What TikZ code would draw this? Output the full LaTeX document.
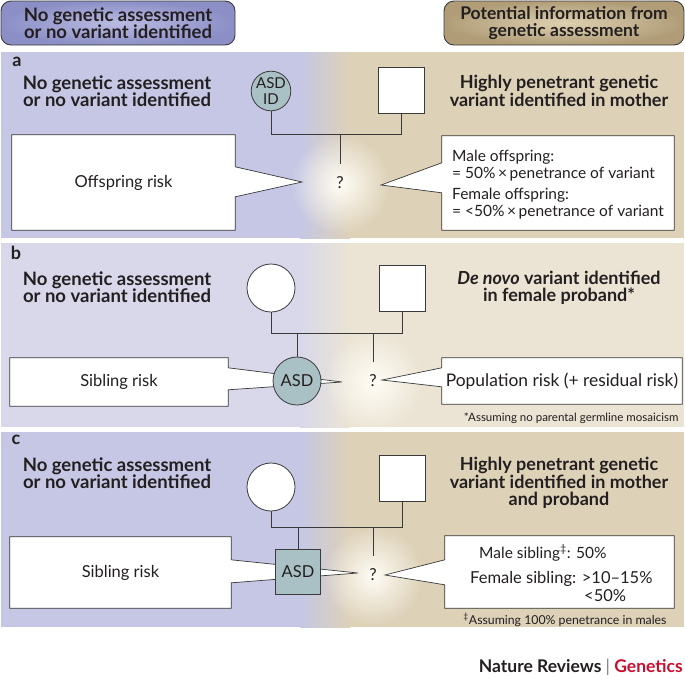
\documentclass[tikz,border=0pt]{standalone}
\usepackage{fontspec}
\setmainfont{Lato}
\usetikzlibrary{calc,fadings}
\definecolor{ink}{HTML}{231F20}
\definecolor{edge}{HTML}{3A3A3A}
\definecolor{lavA}{HTML}{C5C7E5}
\definecolor{tanA}{HTML}{DDD1B8}
\definecolor{lavB}{HTML}{D8D8EA}
\definecolor{tanB}{HTML}{EBE4D4}
\definecolor{asdteal}{HTML}{A9C1C4}
\definecolor{hdrLin}{HTML}{B9BBE2}
\definecolor{hdrLout}{HTML}{8C8FC6}
\definecolor{hdrRin}{HTML}{DED0B0}
\definecolor{hdrRout}{HTML}{B09D78}
\definecolor{natred}{HTML}{C8102E}
\definecolor{glowc}{HTML}{FFFDF6}
\tikzfading[name=glowfade, inner color=transparent!0, outer color=transparent!100]
\begin{document}
\begin{tikzpicture}[x=1pt,y=-1pt,
  title/.style={font=\bfseries\fontsize{18}{17.5}\selectfont, align=center, text=ink},
  titleL/.style={title, font=\bfseries\fontsize{18.5}{17.5}\selectfont},
  body/.style={font=\fontsize{16.5}{17}\selectfont, text=ink},
  small/.style={font=\fontsize{11.5}{12}\selectfont, text=ink},
  panellabel/.style={font=\bfseries\fontsize{18}{19}\selectfont, text=ink},
  hdr/.style={draw=edge, line width=0.9pt, rounded corners=10pt, minimum height=44pt, inner sep=0pt},
  female/.style={draw=edge, line width=0.8pt, fill=white, circle, minimum size=48pt, inner sep=0pt},
  male/.style={draw=edge, line width=0.8pt, fill=white, rectangle, minimum size=46pt, inner sep=0pt},
  affected/.style={fill=asdteal, body},
  pedline/.style={draw=edge, line width=1pt},
  cbox/.style={fill=white, inner sep=0pt, body},
  cline/.style={draw=edge, line width=0.7pt, line join=miter},
  qmark/.style={body, minimum height=38pt, inner sep=0pt},
  glow/.style={fill=glowc, path fading=glowfade}
]
\useasboundingbox (0,0) rectangle (685,678);

% ---------- panel backgrounds ----------
\foreach \t/\b/\lc/\rc in {52/238/lavA/tanA, 243/427/lavB/tanB, 432/627/lavA/tanA} {
  \fill[\lc] (1,\t) rectangle (300.5,\b);
  \shade[left color=\lc, right color=\rc] (300,\t) rectangle (350,\b);
  \fill[\rc] (349.5,\t) rectangle (684,\b);
}

% ---------- headers ----------
\node[hdr, titleL, minimum width=234pt, inner color=hdrLin, outer color=hdrLout] (hL) at (118,23)
  {No genetic assessment\\or no variant identified};
\node[hdr, title, font=\bfseries\fontsize{17.5}{17.5}\selectfont, minimum width=240pt,
  inner color=hdrRin, outer color=hdrRout] (hR) at (564,23)
  {Potential information from\\genetic assessment};

% ================= panel a =================
\node[panellabel] (pa) at (17,62) {a};
\node[titleL] (aTL) at (117,91) {No genetic assessment\\or no variant identified};
\node[title] (aTR) at (559,91) {Highly penetrant genetic\\variant identified in mother};
\fill[glow] (340,184) circle (50);
\node[female, affected, minimum size=37pt, align=center,
  font=\fontsize{15}{15.5}\selectfont] (aF) at (271,91) {ASD\\ID};
\node[male] (aM) at (401,90) {};
\node[qmark] (aQ) at (340,183) {?};
\coordinate (aJ) at (340,134);
\draw[pedline] (aF.south) |- (aJ);
\draw[pedline] (aM.south) |- (aJ);
\draw[pedline] (aJ) -- (aQ.north);
% left callout
\node[cbox, minimum width=223pt, minimum height=95pt] (aL) at (123.5,182.5) {Offspring risk};
\coordinate (aLt) at (302,182);
\fill[white] ($(aL.north east)+(-1,32)$) -- (aLt) -- ($(aL.north east)+(-1,62)$) -- cycle;
\draw[cline] (aL.north west) -- (aL.north east) -- ($(aL.north east)+(0,32)$) -- (aLt)
  -- ($(aL.north east)+(0,62)$) -- (aL.south east) -- (aL.south west) -- cycle;
% right callout
\node[cbox, minimum width=232pt, minimum height=94pt] (aR) at (558,183) {};
\coordinate (aRt) at (381,185);
\fill[white] ($(aR.north west)+(1,27)$) -- (aRt) -- ($(aR.north west)+(1,57)$) -- cycle;
\draw[cline] (aR.north west) -- (aR.north east) -- (aR.south east) -- (aR.south west)
  -- ($(aR.north west)+(0,57)$) -- (aRt) -- ($(aR.north west)+(0,27)$) -- cycle;
\node[body, font=\fontsize{15.5}{17}\selectfont, align=left, anchor=west, inner sep=0pt] (aRx) at (452,185)
  {Male offspring:\\= 50\%\,×\,penetrance of variant\\[4pt]Female offspring:\\= <50\%\,×\,penetrance of variant};

% ================= panel b =================
\node[panellabel] (pb) at (16,253) {b};
\node[titleL] (bTL) at (117,287) {No genetic assessment\\or no variant identified};
\node[title] (bTR) at (559,288) {\textit{De novo} variant identified\\in female proband*};
\fill[glow] (373,382) circle (50);
\node[female] (bF) at (271,288) {};
\node[male] (bM) at (402,288) {};
\node[qmark] (bQ) at (373,381) {?};
\coordinate (bJ) at (297,333);
\coordinate (bK) at (373,333);
\draw[pedline] (bF.south) |- (bM.south |- bJ) -- (bM.south);
% left callout (pointer runs behind the ASD node)
\node[cbox, minimum width=218pt, minimum height=48pt] (bL) at (119,382) {Sibling risk};
\coordinate (bLt) at (342,382);
\fill[white] ($(bL.north east)+(-1,10)$) -- (bLt) -- ($(bL.north east)+(-1,32)$) -- cycle;
\draw[cline] (bL.north west) -- (bL.north east) -- ($(bL.north east)+(0,10)$) -- (bLt)
  -- ($(bL.north east)+(0,32)$) -- (bL.south east) -- (bL.south west) -- cycle;
\node[female, affected] (bA) at (297,381) {ASD};
\draw[pedline] (bJ) -- (bA.north);
\draw[pedline] (bK) -- (bQ.north);
% right callout
\node[cbox, font=\fontsize{17.4}{18}\selectfont, minimum width=240pt, minimum height=46pt] (bR) at (562,381)
  {Population risk (+ residual risk)};
\coordinate (bRt) at (382,380);
\fill[white] ($(bR.north west)+(1,10)$) -- (bRt) -- ($(bR.north west)+(1,29)$) -- cycle;
\draw[cline] (bR.north west) -- (bR.north east) -- (bR.south east) -- (bR.south west)
  -- ($(bR.north west)+(0,29)$) -- (bRt) -- ($(bR.north west)+(0,10)$) -- cycle;
\node[small, anchor=east] (bFn) at (682,418) {*Assuming no parental germline mosaicism};

% ================= panel c =================
\node[panellabel] (pc) at (16,440) {c};
\node[titleL] (cTL) at (117,473) {No genetic assessment\\or no variant identified};
\node[title] (cTR) at (559,483) {Highly penetrant genetic\\variant identified in mother\\and proband};
\fill[glow] (373,576) circle (50);
\node[female] (cF) at (271,487) {};
\node[male] (cM) at (402,478) {};
\node[qmark] (cQ) at (373,575) {?};
\coordinate (cJ) at (298,527);
\coordinate (cK) at (373,527);
\draw[pedline] (cF.south) |- (cM.south |- cJ) -- (cM.south);
% left callout
\node[cbox, minimum width=221pt, minimum height=71pt] (cL) at (120.5,572.5) {Sibling risk};
\coordinate (cLt) at (358,573);
\fill[white] ($(cL.north east)+(-1,23)$) -- (cLt) -- ($(cL.north east)+(-1,46)$) -- cycle;
\draw[cline] (cL.north west) -- (cL.north east) -- ($(cL.north east)+(0,23)$) -- (cLt)
  -- ($(cL.north east)+(0,46)$) -- (cL.south east) -- (cL.south west) -- cycle;
\node[male, affected, minimum size=45pt] (cA) at (298,572) {ASD};
\draw[pedline] (cJ) -- (cA.north);
\draw[pedline] (cK) -- (cQ.north);
% right callout
\node[cbox, minimum width=229pt, minimum height=72pt] (cR) at (559.5,572) {};
\coordinate (cRt) at (385,575);
\fill[white] ($(cR.north west)+(1,24)$) -- (cRt) -- ($(cR.north west)+(1,49)$) -- cycle;
\draw[cline] (cR.north west) -- (cR.north east) -- (cR.south east) -- (cR.south west)
  -- ($(cR.north west)+(0,49)$) -- (cRt) -- ($(cR.north west)+(0,24)$) -- cycle;
\node[body, font=\fontsize{15.5}{17}\selectfont, anchor=west, inner sep=0pt] (cR1) at (479,553)
  {Male sibling\textsuperscript{‡}: 50\%};
\node[body, anchor=west, inner sep=0pt] (cR2) at (470,579) {Female sibling: >10–15\%};
\node[body, anchor=west, inner sep=0pt] (cR3) at (584,596) {<50\%};
\node[small, font=\fontsize{12.3}{13}\selectfont, anchor=east] (cFn) at (670,620)
  {\textsuperscript{‡}Assuming 100\% penetrance in males};

% ---------- footer ----------
\node[anchor=east, font=\bfseries\fontsize{17.5}{19}\selectfont, inner sep=0pt] (foot) at (683,667)
  {\textcolor{ink}{Nature Reviews} {\mdseries\color{gray}|} \textcolor{natred}{Genetics}};
\end{tikzpicture}
\end{document}
